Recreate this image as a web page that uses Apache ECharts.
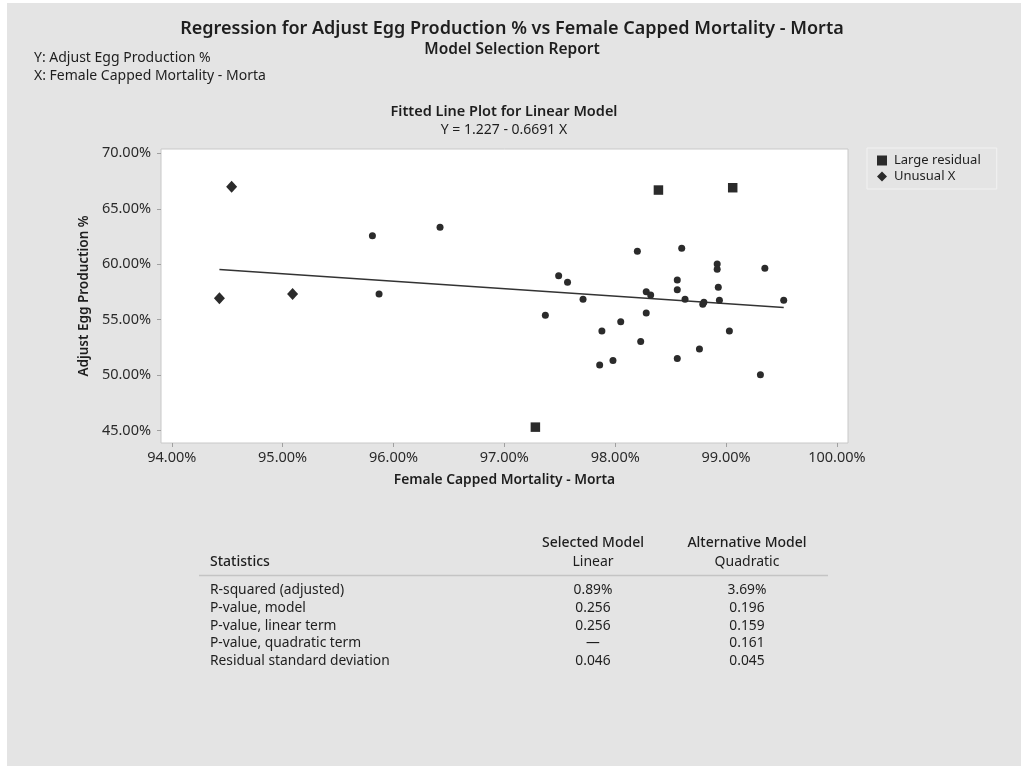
<!DOCTYPE html>
<html>
<head>
<meta charset="utf-8">
<script src="https://cdn.jsdelivr.net/npm/echarts@6/dist/echarts.min.js"></script>
<style>
  html, body { margin: 0; padding: 0; background: #fff; }
  #wrap { position: relative; width: 1021px; height: 772px; }
  #panel { position: absolute; left: 7px; top: 3px; width: 1014px; height: 763px; background: #e4e4e4; }
  #chart { position: absolute; left: 0; top: 0; width: 1021px; height: 772px; }
</style>
</head>
<body>
<div id="wrap">
  <div id="panel"></div>
  <div id="chart"></div>
</div>
<script>
// tick values on the axes (percent)
var xTicks = [94, 95, 96, 97, 98, 99, 100];
var yTicks = [45, 50, 55, 60, 65, 70];

// ordinary observations
var obsX = [95.81, 96.42, 95.87, 97.37, 97.49, 97.57, 97.71, 97.88, 97.86, 97.98, 98.05, 98.20, 98.23, 98.28, 98.32, 98.28,
            98.56, 98.56, 98.60, 98.63, 98.56, 98.76, 98.79, 98.80, 98.92, 98.92, 98.93, 98.94, 99.03, 99.31, 99.35, 99.52];
var obsY = [62.58, 63.33, 57.32, 55.41, 58.97, 58.38, 56.85, 53.99, 50.93, 51.32, 54.83, 61.17, 53.03, 57.53, 57.23, 55.61,
            58.59, 57.71, 61.44, 56.85, 51.50, 52.37, 56.40, 56.58, 60.03, 59.55, 57.93, 56.76, 53.99, 50.05, 59.64, 56.76];

// large residual points (squares)
var residX = [98.39, 99.06, 97.28];
var residY = [66.69, 66.90, 45.32];

// unusual X points (diamonds)
var unusualX = [94.54, 94.43, 95.09];
var unusualY = [66.99, 56.94, 57.32];

// fitted line Y = 1.227 - 0.6691 X, drawn over the data range
var fitX = [94.43, 99.52];
var fitY = [59.52, 56.11];

// model selection table
var statNames = ['R-squared (adjusted)', 'P-value, model', 'P-value, linear term', 'P-value, quadratic term', 'Residual standard deviation'];
var linearVals = ['0.89%', '0.256', '0.256', '—', '0.046'];
var quadVals = ['3.69%', '0.196', '0.159', '0.161', '0.045'];

function zip(a, b) {
  return a.map(function (v, i) { return [v, b[i]]; });
}

var font = '"Noto Sans", "Open Sans", sans-serif';
var ink = '#1e1e1e';
var mark = '#2b2b2b';

var graphics = [];
function txt(x, y, s, size, weight, align) {
  graphics.push({
    type: 'text', x: x, y: y, silent: true,
    style: { text: s, fontFamily: font, fontSize: size, fontWeight: weight || 'normal',
             fill: ink, textAlign: align || 'left', textVerticalAlign: 'middle' }
  });
}

// headings
txt(512, 29, 'Regression for Adjust Egg Production % vs Female Capped Mortality - Morta', 18, 600, 'center');
txt(512, 50, 'Model Selection Report', 15.5, 600, 'center');
txt(34, 58, 'Y: Adjust Egg Production %', 14);
txt(34, 76, 'X: Female Capped Mortality - Morta', 14);
txt(504, 112, 'Fitted Line Plot for Linear Model', 14.5, 600, 'center');
txt(504, 130, 'Y = 1.227 - 0.6691 X', 14, 'normal', 'center');

// table
var col1 = 593, col2 = 747;
txt(col1, 543, 'Selected Model', 14, 500, 'center');
txt(col2, 543, 'Alternative Model', 14, 500, 'center');
txt(210, 562, 'Statistics', 14, 500);
txt(col1, 562, 'Linear', 14, 'normal', 'center');
txt(col2, 562, 'Quadratic', 14, 'normal', 'center');
graphics.push({
  type: 'line', silent: true,
  shape: { x1: 199, y1: 575.5, x2: 828, y2: 575.5 },
  style: { stroke: '#c4c4c4', lineWidth: 1.5 }
});
statNames.forEach(function (name, i) {
  var y = 590 + i * 17.8;
  txt(210, y, name, 13.8);
  txt(col1, y, linearVals[i], 13.8, 'normal', 'center');
  txt(col2, y, quadVals[i], 13.8, 'normal', 'center');
});

var chart = echarts.init(document.getElementById('chart'), null, { renderer: 'canvas' });

chart.setOption({
  backgroundColor: 'transparent',
  animation: false,
  textStyle: { fontFamily: font },
  grid: {
    left: 161, right: 173, top: 149, bottom: 329,
    show: true, backgroundColor: '#ffffff', borderColor: '#c8c8c8', borderWidth: 1
  },
  legend: {
    left: 867, top: 148, orient: 'vertical',
    data: ['Large residual', 'Unusual X'],
    backgroundColor: 'transparent', borderColor: '#f2f2f2', borderWidth: 1,
    padding: [6, 16, 6, 10], itemGap: 3, itemWidth: 10, itemHeight: 10,
    textStyle: { fontFamily: font, fontSize: 13, color: ink, padding: [0, 0, 0, 2] }
  },
  xAxis: {
    type: 'value', min: 93.903, max: 100.10,
    name: 'Female Capped Mortality - Morta', nameLocation: 'middle', nameGap: 30,
    nameTextStyle: { fontFamily: font, fontSize: 13.8, fontWeight: 600, color: ink },
    axisLine: { show: false },
    axisTick: { show: true, inside: false, length: 4, lineStyle: { color: '#a0a0a0' }, customValues: xTicks },
    axisLabel: { color: '#2a2a2a', fontSize: 14.5, margin: 7, customValues: xTicks,
                 formatter: function (v) { return v.toFixed(2) + '%'; } },
    splitLine: { show: false }
  },
  yAxis: {
    type: 'value', min: 43.89, max: 70.39,
    name: 'Adjust Egg Production %', nameLocation: 'middle', nameGap: 69, nameRotate: 90,
    nameTextStyle: { fontFamily: font, fontSize: 13.5, fontWeight: 600, color: ink },
    axisLine: { show: false },
    axisTick: { show: true, inside: false, length: 4, lineStyle: { color: '#a0a0a0' }, customValues: yTicks },
    axisLabel: { color: '#2a2a2a', fontSize: 14.5, margin: 10, customValues: yTicks,
                 formatter: function (v) { return v.toFixed(2) + '%'; } },
    splitLine: { show: false }
  },
  graphic: graphics,
  series: [
    {
      name: 'Fit', type: 'line', data: zip(fitX, fitY), symbol: 'none',
      lineStyle: { color: '#333', width: 1.5 }, z: 1, silent: true
    },
    {
      name: 'Observed', type: 'scatter', data: zip(obsX, obsY),
      symbol: 'circle', symbolSize: 7, itemStyle: { color: mark, opacity: 1 }, z: 3
    },
    {
      name: 'Large residual', type: 'scatter', data: zip(residX, residY),
      symbol: 'rect', symbolSize: 9.5, itemStyle: { color: mark, opacity: 1 }, z: 3
    },
    {
      name: 'Unusual X', type: 'scatter', data: zip(unusualX, unusualY),
      symbol: 'diamond', symbolSize: [11, 12], itemStyle: { color: mark, opacity: 1 }, z: 3
    }
  ]
});
</script>
</body>
</html>
